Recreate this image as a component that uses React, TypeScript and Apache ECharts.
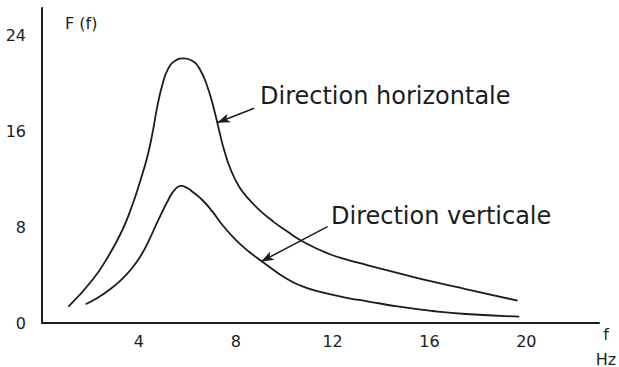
import React, { useEffect, useRef } from "react";
import * as echarts from "echarts";

// Tick values
const xTickValues = [4, 8, 12, 16, 20];
const yTickValues = [0, 8, 16, 24];

// Curve: Direction horizontale  [f (Hz), F(f)]
const horizontalCurve: [number, number][] = [
  [1.09, 1.36], [2.08, 3.58], [2.77, 5.67], [3.32, 7.75], [3.73, 9.83],
  [4.05, 11.8], [4.35, 13.86], [4.56, 15.8], [4.76, 18.03], [4.97, 19.85],
  [5.2, 21.15], [5.5, 21.85], [5.87, 22.06], [6.2, 21.85], [6.49, 21.25],
  [6.83, 19.69], [7.11, 17.75], [7.31, 16.08], [7.52, 14.42], [7.8, 12.75],
  [8.14, 11.36], [8.55, 10.3], [9.04, 9.3], [9.55, 8.45], [10.07, 7.7],
  [10.9, 6.64], [11.86, 5.75], [12.69, 5.22], [13.38, 4.85], [14.75, 4.14],
  [16.13, 3.44], [17.5, 2.83], [19.64, 1.86],
];

// Curve: Direction verticale
const verticalCurve: [number, number][] = [
  [1.8, 1.56], [2.3, 2.1], [2.77, 2.75], [3.25, 3.55], [3.73, 4.6],
  [4.08, 5.6], [4.42, 6.9], [4.83, 8.7], [5.25, 10.4], [5.48, 11.1],
  [5.73, 11.42], [6.0, 11.25], [6.21, 10.94], [6.62, 10.25], [7.04, 9.28],
  [7.45, 8.17], [8.0, 6.92], [8.55, 5.94], [9.1, 5.11], [10.07, 3.72],
  [10.7, 3.1], [11.45, 2.61], [12.69, 2.06], [13.38, 1.83], [14.75, 1.36],
  [16.13, 1.0], [17.5, 0.75], [19.71, 0.53],
];

// Annotation arrows (from label towards curve)
const horizontalArrow: [number, number][] = [[8.76, 17.89], [7.23, 16.69]];
const verticalArrow: [number, number][] = [[11.79, 8.03], [9.04, 5.11]];

const seriesNames = ["Direction horizontale", "Direction verticale"];
const yAxisTitle = "F (f)";
const xAxisTitle = "f";
const xAxisUnit = "Hz";

const INK = "#1c1c1c";
const FONT = "'DejaVu Sans', 'Liberation Sans', sans-serif";

export default function App() {
  const ref = useRef<HTMLDivElement>(null);

  useEffect(() => {
    if (!ref.current) return;
    const chart = echarts.init(ref.current, undefined, { renderer: "svg" });

    const arrowLine = (pts: [number, number][]) => ({
      silent: true,
      symbol: ["none", "arrow"],
      symbolSize: [7, 13],
      label: { show: false },
      lineStyle: { color: INK, width: 1.5, type: "solid" },
      emphasis: { disabled: true },
      data: [[{ coord: pts[0] }, { coord: pts[1] }]],
    });

    chart.setOption({
      animation: false,
      backgroundColor: "#ffffff",
      grid: { left: 42, right: 20, top: 8, bottom: 44, containLabel: false },
      xAxis: {
        type: "value",
        min: 0,
        max: 23,
        interval: 4,
        splitLine: { show: false },
        axisTick: { show: false },
        axisLine: { show: true, lineStyle: { color: INK, width: 2 } },
        axisLabel: {
          color: INK,
          fontFamily: FONT,
          fontSize: 16,
          margin: 10,
          formatter: (v: number) => (xTickValues.includes(v) ? String(v) : ""),
        },
      },
      yAxis: {
        type: "value",
        min: 0,
        max: 26.25,
        interval: 8,
        splitLine: { show: false },
        axisTick: { show: false },
        axisLine: { show: true, lineStyle: { color: INK, width: 2 } },
        axisLabel: {
          color: INK,
          fontFamily: FONT,
          fontSize: 16,
          margin: 16,
          formatter: (v: number) => (yTickValues.includes(v) ? String(v) : ""),
        },
      },
      series: [
        {
          name: seriesNames[0],
          type: "line",
          data: horizontalCurve,
          smooth: 0.5,
          showSymbol: false,
          lineStyle: { color: INK, width: 1.8 },
          markLine: arrowLine(horizontalArrow),
        },
        {
          name: seriesNames[1],
          type: "line",
          data: verticalCurve,
          smooth: 0.5,
          showSymbol: false,
          lineStyle: { color: INK, width: 1.8 },
          markLine: arrowLine(verticalArrow),
        },
      ],
      graphic: [
        {
          type: "text",
          left: 65,
          top: 15,
          style: { text: yAxisTitle, fill: INK, font: `16px ${FONT}` },
        },
        {
          type: "text",
          x: 606,
          y: 334,
          style: { text: xAxisTitle, fill: INK, font: `16px ${FONT}`, align: "center", verticalAlign: "middle" },
        },
        {
          type: "text",
          x: 606,
          y: 359,
          style: { text: xAxisUnit, fill: INK, font: `16px ${FONT}`, align: "center", verticalAlign: "middle" },
        },
        {
          type: "text",
          x: 260,
          y: 96,
          style: { text: seriesNames[0], fill: INK, font: `24px ${FONT}`, align: "left", verticalAlign: "middle" },
        },
        {
          type: "text",
          x: 331,
          y: 216,
          style: { text: seriesNames[1], fill: INK, font: `24px ${FONT}`, align: "left", verticalAlign: "middle" },
        },
      ],
    });

    return () => chart.dispose();
  }, []);

  return (
    <div
      ref={ref}
      style={{ position: "fixed", left: 0, top: 0, width: 619, height: 367 }}
    />
  );
}
